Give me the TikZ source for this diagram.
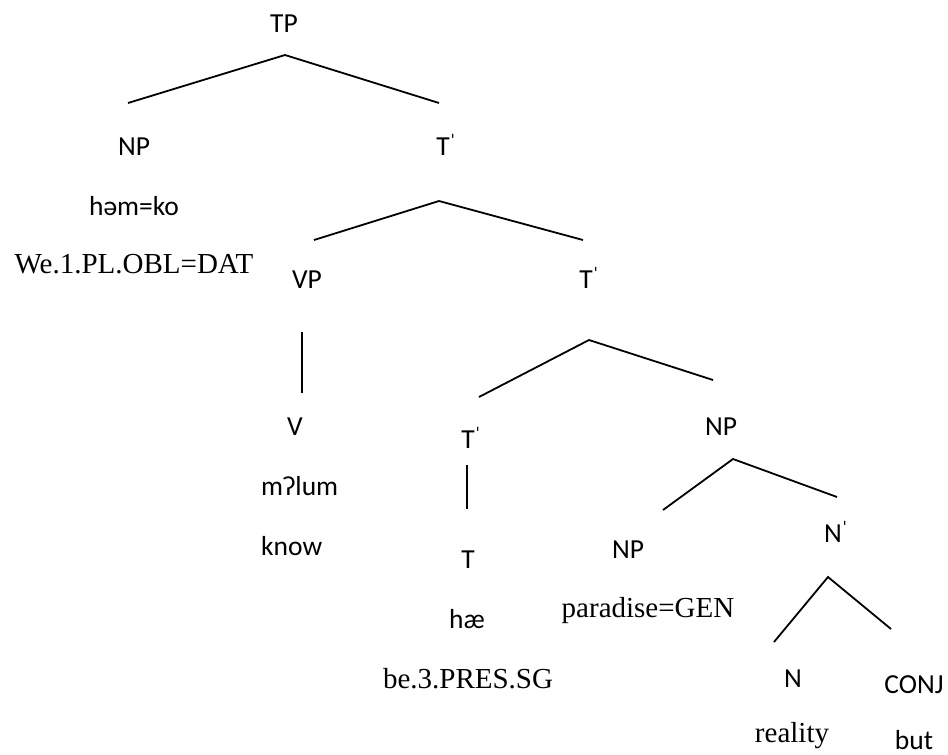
\documentclass[tikz,border=0pt]{standalone}
\usepackage{fontspec}
\setmainfont{Liberation Serif}
\newfontfamily\labfont{Carlito}
\newcommand{\xbarmark}{{\fontsize{20}{20}\selectfont\raisebox{0.55ex}{ˈ}}}
\begin{document}
\begin{tikzpicture}[x=1pt,y=-1pt,
  cat/.style={font=\labfont\fontsize{27.5}{30}\selectfont, anchor=base, inner sep=0pt},
  gloss/.style={font=\fontsize{29}{32}\selectfont, anchor=base, inner sep=0pt},
  branch/.style={line width=1.8pt}]
\useasboundingbox (0,0) rectangle (948,755);

% category labels
\node[cat] (tp)   at (284,32)  {TP};
\node[cat] (np1)  at (134,155) {NP};
\node[cat] (tb1)  at (446,155) {T\xbarmark};
\node[cat] (vp)   at (307,288) {VP};
\node[cat] (tb2)  at (589,288) {T\xbarmark};
\node[cat] (v)    at (295,435) {V};
\node[cat] (tb3)  at (471,448) {T\xbarmark};
\node[cat] (t)    at (468,568) {T};
\node[cat] (np2)  at (721,435) {NP};
\node[cat] (np3)  at (628,558) {NP};
\node[cat] (nb)   at (836,542) {N\xbarmark};
\node[cat] (n)    at (793,687) {N};
\node[cat] (conj) at (914,693) {CONJ};

% words and glosses
\node[cat]   (w1) at (134,215) {həm=ko};
\node[gloss] (g1) at (134,273) {We.1.PL.OBL=DAT};
\node[cat, anchor=base west] (w2) at (261,495) {mʔlum};
\node[cat, anchor=base west] (g2) at (261,555) {know};
\node[cat]   (w3) at (467,628) {hæ};
\node[gloss] (g3) at (468,688) {be.3.PRES.SG};
\node[gloss] (g4) at (648,617) {paradise=GEN};
\node[gloss] (g5) at (792,742) {reality};
\node[cat]   (g6) at (914,749) {but};

% branch points
\coordinate (tp-a)  at (285,55);
\coordinate (tp-l)  at (128,103);
\coordinate (tp-r)  at (439,103);
\coordinate (tb1-a) at (439,201);
\coordinate (tb1-l) at (314,240);
\coordinate (tb1-r) at (583,240);
\coordinate (vp-a)  at (302,332);
\coordinate (vp-b)  at (302,393);
\coordinate (tb2-a) at (589,340);
\coordinate (tb2-l) at (479,397);
\coordinate (tb2-r) at (713,380);
\coordinate (tb3-a) at (467,465);
\coordinate (tb3-b) at (467,509);
\coordinate (np2-a) at (733,459);
\coordinate (np2-l) at (663,510);
\coordinate (np2-r) at (837,497);
\coordinate (nb-a)  at (828,577);
\coordinate (nb-l)  at (774,642);
\coordinate (nb-r)  at (891,629);

% branches
\draw[branch] (tp-l) -- (tp-a) -- (tp-r);
\draw[branch] (tb1-l) -- (tb1-a) -- (tb1-r);
\draw[branch] (vp-a) -- (vp-b);
\draw[branch] (tb2-l) -- (tb2-a) -- (tb2-r);
\draw[branch] (tb3-a) -- (tb3-b);
\draw[branch] (np2-l) -- (np2-a) -- (np2-r);
\draw[branch] (nb-l) -- (nb-a) -- (nb-r);
\end{tikzpicture}
\end{document}
